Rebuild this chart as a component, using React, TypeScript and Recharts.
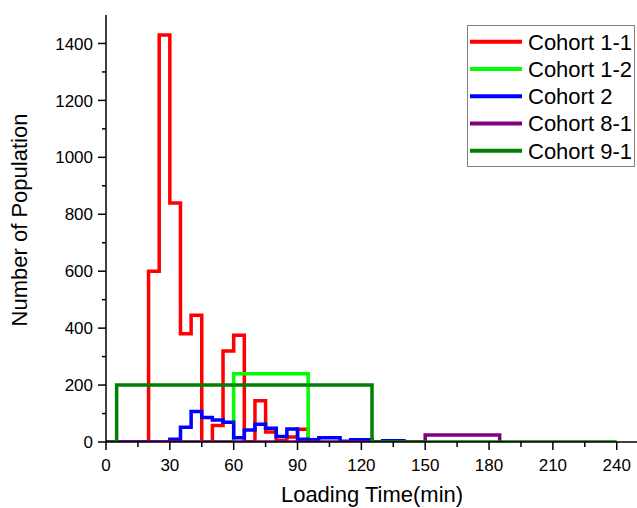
import React from 'react';
import { LineChart, Line, XAxis, YAxis, Legend } from 'recharts';

// Histogram bin starts (min) and counts for each cohort
const cohort11Edges = [0, 20, 25, 30, 35, 40, 45, 50, 55, 60, 65, 70, 75, 80, 85, 90, 95];
const cohort11Counts = [0, 600, 1430, 840, 380, 445, 0, 58, 320, 375, 0, 145, 35, 5, 18, 45, 0];

const cohort12Edges = [0, 60, 95];
const cohort12Counts = [0, 240, 0];

const cohort2Edges = [0, 30, 35, 40, 45, 50, 55, 60, 65, 70, 75, 80, 85, 90, 95, 100, 110, 115, 125, 130, 140];
const cohort2Counts = [0, 10, 52, 107, 86, 77, 69, 15, 42, 62, 48, 19, 46, 10, 8, 15, 3, 8, 1, 4, 0];

const cohort81Edges = [0, 150, 185];
const cohort81Counts = [0, 25, 0];

const cohort91Edges = [0, 5, 125, 240];
const cohort91Counts = [0, 200, 0, 0];

const seriesNames = ['Cohort 1-1', 'Cohort 1-2', 'Cohort 2', 'Cohort 8-1', 'Cohort 9-1'];
const seriesColors = ['#ff0000', '#00ff00', '#0000ff', '#800080', '#008000'];

const xTicks = [0, 15, 30, 45, 60, 75, 90, 105, 120, 135, 150, 165, 180, 195, 210, 225, 240];
const yTicks = [0, 100, 200, 300, 400, 500, 600, 700, 800, 900, 1000, 1100, 1200, 1300, 1400];

const toPoints = (edges: number[], counts: number[]) => edges.map((x, i) => ({ x, y: counts[i] }));

const series = [
  toPoints(cohort11Edges, cohort11Counts),
  toPoints(cohort12Edges, cohort12Counts),
  toPoints(cohort2Edges, cohort2Counts),
  toPoints(cohort81Edges, cohort81Counts),
  toPoints(cohort91Edges, cohort91Counts),
];

const FONT = '"Liberation Sans", Arial, Helvetica, sans-serif';

const YTick = (props: any) => {
  const { x, y, payload } = props;
  const major = payload.value % 200 === 0;
  return (
    <g>
      <line x1={x - (major ? 8 : 4)} x2={x} y1={y} y2={y} stroke="#000" strokeWidth={1.5} />
      {major && (
        <text x={x - 13} y={y} dy="0.36em" textAnchor="end" fontSize={17} fontFamily={FONT} fill="#000">
          {payload.value}
        </text>
      )}
    </g>
  );
};

const XTick = (props: any) => {
  const { x, y, payload } = props;
  const major = payload.value % 30 === 0;
  return (
    <g>
      <line x1={x} x2={x} y1={y} y2={y + (major ? 8 : 5)} stroke="#000" strokeWidth={1.5} />
      {major && (
        <text x={x} y={y + 29} textAnchor="middle" fontSize={17} fontFamily={FONT} fill="#000">
          {payload.value}
        </text>
      )}
    </g>
  );
};

const renderLegend = (props: any) => {
  const payload = props.payload || [];
  return (
    <div style={{ width: 168, height: 142, boxSizing: 'border-box', border: '1px solid #808080', background: '#fff' }}>
      <svg width={166} height={140} style={{ display: 'block' }}>
        {payload.map((entry: any, i: number) => {
          const cy = 15.7 + i * 27.25;
          return (
            <g key={i}>
              <line x1={2} x2={54} y1={cy} y2={cy} stroke={entry.color} strokeWidth={4} />
              <text x={60} y={cy} dy="0.36em" fontSize={22} fontFamily={FONT} fill="#000">
                {entry.value}
              </text>
            </g>
          );
        })}
      </svg>
    </div>
  );
};

const YLabel = () => (
  <text
    x={27}
    y={220}
    transform="rotate(-90 27 220)"
    textAnchor="middle"
    fontSize={22}
    fontFamily={FONT}
    fill="#000"
  >
    Number of Population
  </text>
);

const XLabel = () => (
  <text x={372} y={502} textAnchor="middle" fontSize={22} fontFamily={FONT} fill="#000">
    Loading Time(min)
  </text>
);

export default function App() {
  return (
    <div style={{ position: 'absolute', left: 0, top: 0, width: 637, height: 508, background: '#fff', overflow: 'hidden' }}>
      <LineChart width={637} height={508} margin={{ top: 15, right: -1, left: 0, bottom: 0 }}>
        <XAxis
          type="number"
          dataKey="x"
          domain={[0, 250]}
          ticks={xTicks}
          interval={0}
          allowDataOverflow
          height={66}
          tickSize={0}
          tickMargin={0}
          tickLine={false}
          tick={<XTick />}
          axisLine={{ stroke: '#000', strokeWidth: 1.5 }}
          label={<XLabel />}
        />
        <YAxis
          type="number"
          dataKey="y"
          domain={[0, 1500]}
          ticks={yTicks}
          interval={0}
          allowDataOverflow
          width={106}
          tickSize={0}
          tickMargin={0}
          tickLine={false}
          tick={<YTick />}
          axisLine={{ stroke: '#000', strokeWidth: 1.5 }}
          label={<YLabel />}
        />
        {series.map((data, i) => (
          <Line
            key={seriesNames[i]}
            data={data}
            dataKey="y"
            name={seriesNames[i]}
            type="stepAfter"
            stroke={seriesColors[i]}
            strokeWidth={3.5}
            strokeLinejoin="miter"
            dot={false}
            activeDot={false}
            isAnimationActive={false}
          />
        ))}
        <Legend
          layout="vertical"
          align="center"
          verticalAlign="middle"
          content={renderLegend}
          wrapperStyle={{ position: 'absolute', left: 467, top: 25, width: 168, height: 142 }}
        />
      </LineChart>
    </div>
  );
}
